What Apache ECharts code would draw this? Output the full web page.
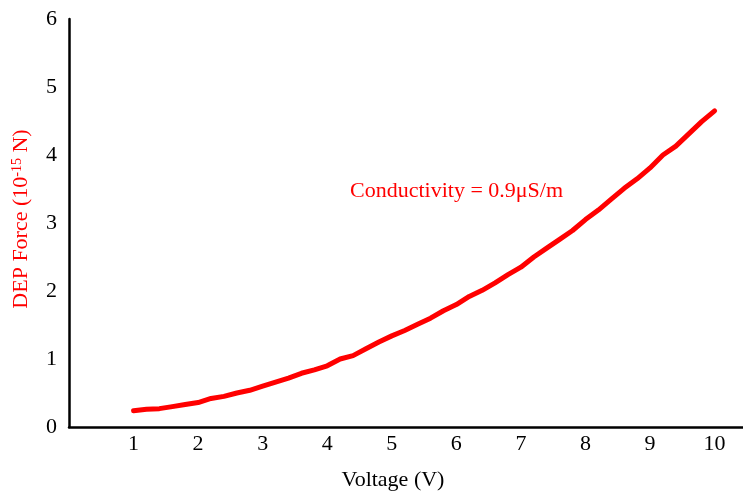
<!DOCTYPE html>
<html lang="en">
  <head>
    <meta charset="UTF-8" />
    <title>DEP Force vs Voltage</title>
    <script src="https://cdn.jsdelivr.net/npm/echarts@6.0.0/dist/echarts.min.js"></script>
    <style>
      body { margin: 0; background: #fff; }
    </style>
  </head>
  <body>
    <div id="main" style="width: 743px; height: 494px"></div>
    <script type="text/javascript">
      // voltage (V) and DEP force (1e-15 N)
      let voltage = [1.0, 1.2, 1.4, 1.6, 1.8, 2.0, 2.2, 2.4, 2.6, 2.8, 3.0, 3.2, 3.4, 3.6, 3.8, 4.0,
        4.2, 4.4, 4.6, 4.8, 5.0, 5.2, 5.4, 5.6, 5.8, 6.0, 6.2, 6.4, 6.6, 6.8, 7.0, 7.2, 7.4, 7.6,
        7.8, 8.0, 8.2, 8.4, 8.6, 8.8, 9.0, 9.2, 9.4, 9.6, 9.8, 10.0]
      let force = [0.24, 0.26, 0.27, 0.30, 0.33, 0.36, 0.42, 0.45, 0.50, 0.54, 0.60, 0.66, 0.72, 0.79, 0.84, 0.90,
        1.00, 1.05, 1.15, 1.25, 1.34, 1.42, 1.51, 1.60, 1.71, 1.80, 1.92, 2.01, 2.12, 2.24, 2.35, 2.50, 2.63, 2.76,
        2.89, 3.05, 3.19, 3.35, 3.51, 3.65, 3.81, 4.00, 4.13, 4.31, 4.49, 4.65]
      let annotation = "Conductivity = 0.9\u03bcS/m"

      let font = "Liberation Serif"
      let points = voltage.map((v, i) => [v, force[i]])

      let options = {
        animation: false,
        grid: { left: 69, right: 0, top: 19, bottom: 67, containLabel: false, outerBoundsMode: "none" },
        xAxis: {
          type: "value",
          min: 0,
          max: 10.44,
          interval: 1,
          name: "Voltage (V)",
          nameLocation: "middle",
          nameGap: 42,
          nameTextStyle: { fontFamily: font, fontSize: 22, color: "#000", padding: [0, 26, 0, 0] },
          axisLine: { lineStyle: { color: "#000", width: 2.5 } },
          axisTick: { show: false },
          splitLine: { show: false },
          axisLabel: {
            showMinLabel: false,
            showMaxLabel: false,
            margin: 6,
            fontFamily: font,
            fontSize: 22,
            color: "#000",
          },
        },
        yAxis: {
          type: "value",
          min: 0,
          max: 6,
          interval: 1,
          name: "{n|DEP Force (10}{s|-15}{n| N)}",
          nameLocation: "middle",
          nameGap: 37,
          nameRotate: 90,
          nameTextStyle: {
            padding: [0, 0, 0, 8],
            rich: {
              n: { fontFamily: font, fontSize: 22, color: "#ff0000" },
              s: { fontFamily: font, fontSize: 14, color: "#ff0000", verticalAlign: "top", padding: [0, 0, 8, 0] },
            },
          },
          axisLine: { show: true, lineStyle: { color: "#000", width: 2.5 } },
          axisTick: { show: false },
          splitLine: { show: false },
          axisLabel: { margin: 12, fontFamily: font, fontSize: 22, color: "#000" },
        },
        graphic: [
          {
            type: "text",
            left: 350,
            top: 180,
            style: { text: annotation, fontFamily: font, fontSize: 22, fill: "#ff0000" },
          },
        ],
        series: [
          {
            name: "DEP force",
            type: "line",
            data: points,
            showSymbol: false,
            lineStyle: { color: "#ff0000", width: 5, cap: "round", join: "round" },
          },
        ],
      }

      let myChart = echarts.init(document.getElementById("main"))
      myChart.setOption(options)
    </script>
  </body>
</html>
